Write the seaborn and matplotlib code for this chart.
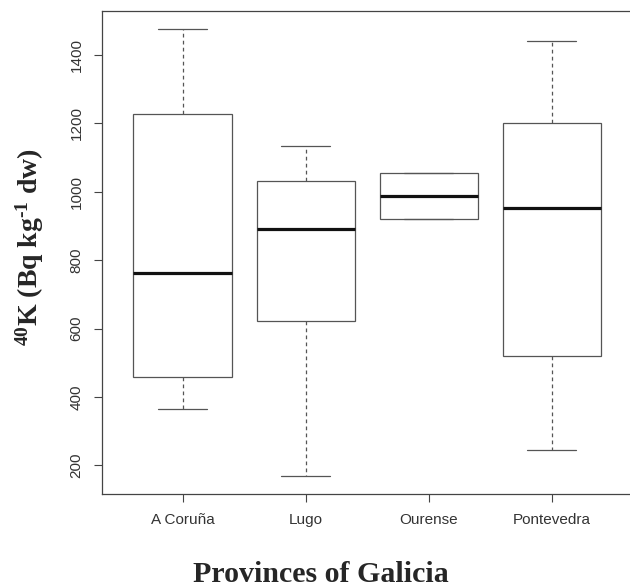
import numpy as np
import pandas as pd
import matplotlib
matplotlib.use("Agg")
import matplotlib.pyplot as plt
import seaborn as sns

# Five-number summaries (Bq kg-1 dw)
provinces = ["A Coruña", "Lugo", "Ourense", "Pontevedra"]
lower_whisker = [366, 169, 919, 244]
q1 = [457, 622, 919, 520]
median = [761, 891, 988, 953]
q3 = [1227, 1030, 1055, 1201]
upper_whisker = [1475, 1134, 1055, 1440]
y_ticks = [200, 400, 600, 800, 1000, 1200, 1400]

rows = []
for i, p in enumerate(provinces):
    for v in (lower_whisker[i], q1[i], median[i], q3[i], upper_whisker[i]):
        rows.append({"province": p, "k40": v})
df = pd.DataFrame(rows)

sns.set_style("ticks")
plt.rcParams["font.family"] = ["Liberation Sans", "DejaVu Sans"]
plt.rcParams["mathtext.fontset"] = "custom"
plt.rcParams["mathtext.rm"] = "Liberation Serif:bold"
plt.rcParams["mathtext.bf"] = "Liberation Serif:bold"
plt.rcParams["mathtext.it"] = "Liberation Serif:bold"

fig = plt.figure(figsize=(6.30, 5.87), dpi=100)
ax = fig.add_axes([101.5 / 630, (587 - 494) / 587, (633 - 101.5) / 630, (494 - 11) / 587])

line_col = "#555555"
sns.boxplot(
    data=df, x="province", y="k40", order=provinces, ax=ax,
    width=0.8, whis=(0, 100), color="white", linecolor=line_col, linewidth=0.9,
    boxprops=dict(facecolor="white", edgecolor=line_col, linewidth=0.9),
    whiskerprops=dict(color=line_col, linestyle=(0, (3, 2.6)), linewidth=0.9),
    capprops=dict(color=line_col, linewidth=0.9),
    medianprops=dict(color="#111111", linewidth=2.3),
    showfliers=False,
)

lo = min(lower_whisker)
hi = max(upper_whisker)
ext = (hi - lo) * 0.04
ax.set_ylim(lo - ext, hi + ext)
ax.set_xlim(-0.66, 3.66)
ax.set_yticks(y_ticks)
ax.set_yticklabels([str(t) for t in y_ticks], rotation=90, va="center")

for s in ax.spines.values():
    s.set_visible(True)
    s.set_color("#444444")
    s.set_linewidth(0.9)

ax.tick_params(axis="both", length=6, width=0.8, color="#444444",
               labelsize=11, labelcolor="#333333")
ax.tick_params(axis="x", pad=8)
ax.tick_params(axis="y", pad=7)

ax.set_xlabel("Provinces of Galicia", fontfamily="Liberation Serif",
              fontweight="bold", fontsize=21.5, va="center")
ax.xaxis.set_label_coords((321 - 101.5) / 531.5, (494 - 574) / 483)

ax.set_ylabel(r"$^{40}$K (Bq kg$^{\text{-1}}$ dw)", fontfamily="Liberation Serif",
              fontweight="bold", fontsize=20, va="center")
ax.yaxis.set_label_coords((30 - 101.5) / 531.5, (494 - 247) / 483)

fig.savefig("out.png", dpi=100)
